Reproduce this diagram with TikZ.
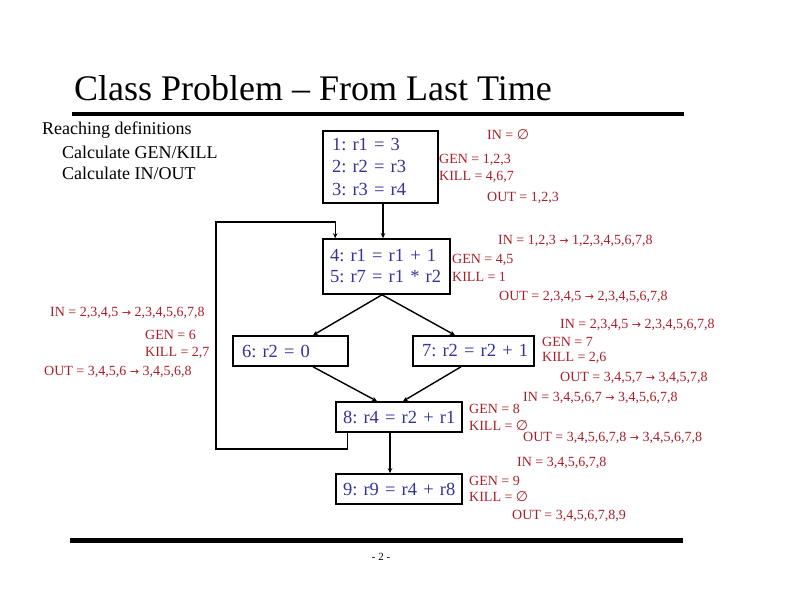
\documentclass[tikz,border=0pt]{standalone}
\usepackage{fontspec}
\setmainfont{Liberation Serif}
\newfontfamily\symfnt{DejaVu Sans}
\usetikzlibrary{arrows.meta}
\definecolor{codeblue}{RGB}{51,51,153}
\definecolor{lblred}{RGB}{170,30,40}
\newcommand{\emptyst}{{\symfnt\char"2205}}
\newcommand{\rarr}{{\symfnt\fontsize{11}{12}\selectfont\char"2192}}
\tikzset{
  box/.style={draw=black, line width=1.6pt, inner ysep=0pt, align=left,
    text=codeblue, font=\fontsize{18.5}{22.5}\selectfont\frenchspacing},
  lbl/.style={anchor=west, inner sep=0pt, text=lblred, font=\fontsize{14}{15}\selectfont\frenchspacing},
  edge/.style={line width=1.4pt, -{Stealth[length=5pt,width=4.5pt]}},
  txt/.style={anchor=west, inner sep=0pt, font=\fontsize{18}{20}\selectfont}
}
\begin{document}
\begin{tikzpicture}[x=1pt,y=-1pt]
\useasboundingbox (0,0) rectangle (792,612);
% title and rules
\node[anchor=base west, inner sep=0pt, font=\fontsize{36}{40}\selectfont] (title) at (74,101) {Class Problem -- From Last Time};
\fill (72,112) rectangle (684,116);
\fill (70,538) rectangle (683,543);
\node[inner sep=0pt, font=\fontsize{11}{13}\selectfont] (page) at (381,557) {- 2 -};
% left text
\node[txt] (t1) at (42,130) {Reaching definitions};
\node[txt] (t2) at (62,152) {Calculate GEN/KILL};
\node[txt] (t3) at (62,173) {Calculate IN/OUT};
% boxes
\node[box, text width=97pt, inner xsep=9pt, minimum height=72pt] (b1) at (380.5,167) {\mbox{1: r1 = 3}\\\mbox{2: r2 = r3}\\\mbox{3: r3 = r4}};
\node[box, text width=113pt, inner xsep=7pt, minimum height=55pt, font=\fontsize{18.5}{21}\selectfont\frenchspacing] (b4) at (386.5,266.5) {\mbox{4: r1 = r1 + 1}\\\mbox{5: r7 = r1 * r2}};
\node[box, text width=97pt, inner xsep=9pt, minimum height=30pt] (b6) at (290.5,351) {\mbox{6: r2 = 0}};
\node[box, text width=103pt, inner xsep=9pt, minimum height=30pt] (b7) at (473.5,351) {\mbox{7: r2 = r2 + 1}};
\node[box, text width=112pt, inner xsep=7pt, minimum height=30pt] (b8) at (399,417) {\mbox{8: r4 = r2 + r1}};
\node[box, text width=112pt, inner xsep=7pt, minimum height=30pt] (b9) at (399,489) {\mbox{9: r9 = r4 + r8}};
% connectors
\coordinate (lb) at (216,449);
\coordinate (lt) at (216,222);
\draw[edge] ([xshift=2.5pt]b1.south) -- ([xshift=2.5pt]b1.south |- b4.north);
\draw[edge] ([xshift=12pt]b8.south west) |- (lb) -- (lt) -| ([xshift=13pt]b4.north west);
\draw[edge] ([xshift=-4.5pt]b4.south) -- ([xshift=22.5pt]b6.north);
\draw[edge] ([xshift=-4.5pt]b4.south) -- ([xshift=-18.5pt]b7.north);
\draw[edge] ([xshift=22.5pt]b6.south) -- ([xshift=-22pt]b8.north);
\draw[edge] ([xshift=-12.5pt]b7.south) -- ([xshift=4pt]b8.north);
\draw[edge] ([xshift=-9pt]b8.south) -- ([xshift=-9pt]b9.north);
% labels block 1
\node[lbl] (in1) at (487,135) {IN = \emptyst};
\node[lbl] (gen1) at (439,160) {GEN = 1,2,3};
\node[lbl] (kill1) at (439,177) {KILL = 4,6,7};
\node[lbl] (out1) at (487,198) {OUT = 1,2,3};
% labels block 4
\node[lbl] (in4) at (498,241) {IN = 1,2,3 \rarr\ 1,2,3,4,5,6,7,8};
\node[lbl] (gen4) at (452,260) {GEN = 4,5};
\node[lbl] (kill4) at (452,277) {KILL = 1};
\node[lbl] (out4) at (499,297) {OUT = 2,3,4,5 \rarr\ 2,3,4,5,6,7,8};
% labels block 6
\node[lbl] (in6) at (50,313) {IN = 2,3,4,5 \rarr\ 2,3,4,5,6,7,8};
\node[lbl] (gen6) at (145,335) {GEN = 6};
\node[lbl] (kill6) at (145,353) {KILL = 2,7};
\node[lbl] (out6) at (44,372) {OUT = 3,4,5,6 \rarr\ 3,4,5,6,8};
% labels block 7
\node[lbl] (in7) at (560,325) {IN = 2,3,4,5 \rarr\ 2,3,4,5,6,7,8};
\node[lbl] (gen7) at (542,342) {GEN = 7};
\node[lbl] (kill7) at (542,358) {KILL = 2,6};
\node[lbl] (out7) at (560,378) {OUT = 3,4,5,7 \rarr\ 3,4,5,7,8};
% labels block 8
\node[lbl] (in8) at (523,398) {IN = 3,4,5,6,7 \rarr\ 3,4,5,6,7,8};
\node[lbl] (gen8) at (469,409) {GEN = 8};
\node[lbl] (kill8) at (469,426) {KILL = \emptyst};
\node[lbl] (out8) at (523,438) {OUT = 3,4,5,6,7,8 \rarr\ 3,4,5,6,7,8};
% labels block 9
\node[lbl] (in9) at (517,463) {IN = 3,4,5,6,7,8};
\node[lbl] (gen9) at (469,481) {GEN = 9};
\node[lbl] (kill9) at (469,497) {KILL = \emptyst};
\node[lbl] (out9) at (512,516) {OUT = 3,4,5,6,7,8,9};
\end{tikzpicture}
\end{document}
